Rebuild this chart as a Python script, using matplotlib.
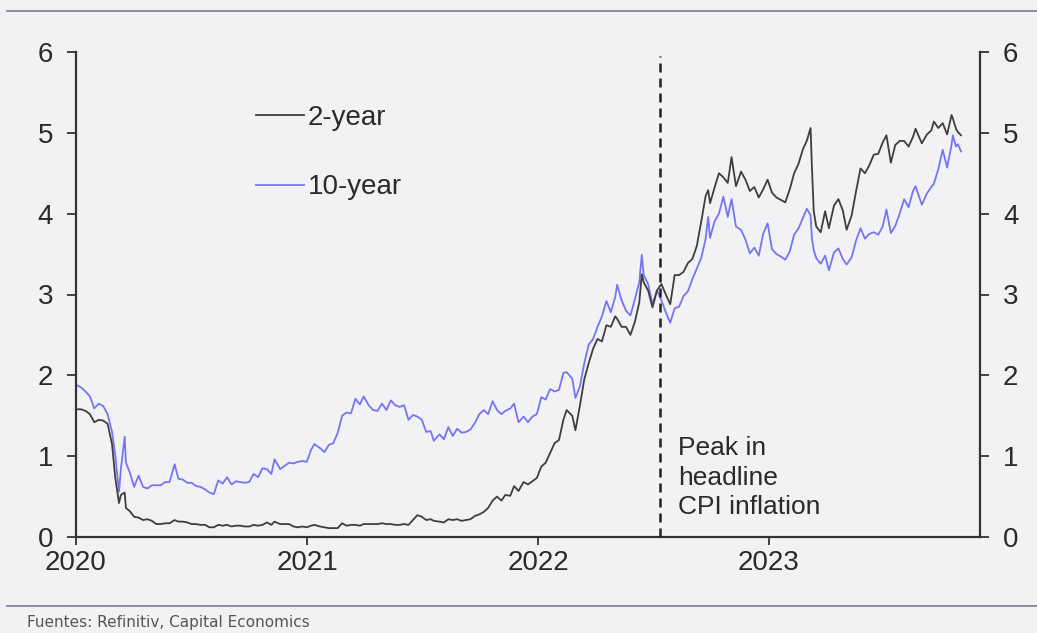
import matplotlib
matplotlib.use("Agg")
import matplotlib.pyplot as plt
import pandas as pd
from matplotlib.lines import Line2D

# ---------------- data ----------------
dates = [
    # 2020
    "2020-01-02", "2020-01-09", "2020-01-16", "2020-01-23", "2020-01-30",
    "2020-02-06", "2020-02-13", "2020-02-20", "2020-02-27",
    "2020-03-03", "2020-03-09", "2020-03-12", "2020-03-18", "2020-03-20", "2020-03-26",
    "2020-04-02", "2020-04-09", "2020-04-16", "2020-04-23", "2020-04-30",
    "2020-05-07", "2020-05-14", "2020-05-21", "2020-05-28",
    "2020-06-05", "2020-06-11", "2020-06-18", "2020-06-25",
    "2020-07-02", "2020-07-09", "2020-07-16", "2020-07-23", "2020-07-30",
    "2020-08-06", "2020-08-13", "2020-08-20", "2020-08-27",
    "2020-09-03", "2020-09-10", "2020-09-17", "2020-09-24",
    "2020-10-01", "2020-10-08", "2020-10-15", "2020-10-22", "2020-10-29",
    "2020-11-05", "2020-11-10", "2020-11-19", "2020-11-26",
    "2020-12-03", "2020-12-10", "2020-12-17", "2020-12-24", "2020-12-31",
    # 2021
    "2021-01-07", "2021-01-12", "2021-01-21", "2021-01-28",
    "2021-02-04", "2021-02-11", "2021-02-18", "2021-02-25",
    "2021-03-04", "2021-03-11", "2021-03-18", "2021-03-25", "2021-03-31",
    "2021-04-08", "2021-04-15", "2021-04-22", "2021-04-29",
    "2021-05-06", "2021-05-13", "2021-05-20", "2021-05-27",
    "2021-06-03", "2021-06-10", "2021-06-17", "2021-06-24",
    "2021-07-01", "2021-07-08", "2021-07-15", "2021-07-20", "2021-07-29",
    "2021-08-05", "2021-08-12", "2021-08-19", "2021-08-26",
    "2021-09-02", "2021-09-09", "2021-09-16", "2021-09-23", "2021-09-30",
    "2021-10-07", "2021-10-14", "2021-10-21", "2021-10-28",
    "2021-11-04", "2021-11-10", "2021-11-18", "2021-11-24",
    "2021-12-01", "2021-12-09", "2021-12-16", "2021-12-23", "2021-12-30",
    # 2022
    "2022-01-06", "2022-01-13", "2022-01-20", "2022-01-27",
    "2022-02-03", "2022-02-10", "2022-02-15", "2022-02-24",
    "2022-03-01", "2022-03-08", "2022-03-15", "2022-03-22", "2022-03-29",
    "2022-04-05", "2022-04-12", "2022-04-19", "2022-04-26",
    "2022-05-03", "2022-05-06", "2022-05-13", "2022-05-20", "2022-05-27",
    "2022-06-03", "2022-06-10", "2022-06-14", "2022-06-17", "2022-06-24",
    "2022-07-01", "2022-07-08", "2022-07-15", "2022-07-22", "2022-07-29",
    "2022-08-05", "2022-08-12", "2022-08-19", "2022-08-26",
    "2022-09-02", "2022-09-09", "2022-09-16", "2022-09-23", "2022-09-27", "2022-09-30",
    "2022-10-07", "2022-10-14", "2022-10-21", "2022-10-28",
    "2022-11-03", "2022-11-10", "2022-11-18", "2022-11-25",
    "2022-12-02", "2022-12-09", "2022-12-16", "2022-12-23", "2022-12-30",
    # 2023
    "2023-01-06", "2023-01-13", "2023-01-20", "2023-01-27",
    "2023-02-03", "2023-02-10", "2023-02-17", "2023-02-24",
    "2023-03-02", "2023-03-08", "2023-03-10", "2023-03-13", "2023-03-17", "2023-03-24", "2023-03-31",
    "2023-04-06", "2023-04-14", "2023-04-21", "2023-04-28",
    "2023-05-04", "2023-05-12", "2023-05-19", "2023-05-26",
    "2023-06-02", "2023-06-09", "2023-06-16", "2023-06-23", "2023-06-30",
    "2023-07-06", "2023-07-13", "2023-07-20", "2023-07-27",
    "2023-08-03", "2023-08-10", "2023-08-17", "2023-08-21", "2023-08-31",
    "2023-09-08", "2023-09-15", "2023-09-19", "2023-09-26",
    "2023-10-03", "2023-10-10", "2023-10-17", "2023-10-19", "2023-10-24", "2023-10-27",
    "2023-11-01",
]

two_year = [
    # 2020
    1.58, 1.58, 1.56, 1.52, 1.42,
    1.45, 1.44, 1.40, 1.15,
    0.74, 0.42, 0.52, 0.55, 0.36, 0.32,
    0.25, 0.24, 0.21, 0.22, 0.20,
    0.16, 0.16, 0.17, 0.17,
    0.21, 0.19, 0.19, 0.18,
    0.16, 0.16, 0.15, 0.15, 0.12,
    0.12, 0.15, 0.14, 0.15,
    0.13, 0.14, 0.14, 0.13,
    0.13, 0.15, 0.14, 0.15, 0.18,
    0.15, 0.19, 0.16, 0.16,
    0.16, 0.13, 0.12, 0.13, 0.12,
    # 2021
    0.14, 0.15, 0.13, 0.12,
    0.11, 0.11, 0.11, 0.17,
    0.14, 0.15, 0.15, 0.14, 0.16,
    0.16, 0.16, 0.16, 0.17,
    0.16, 0.16, 0.15, 0.15,
    0.16, 0.15, 0.21, 0.27,
    0.25, 0.21, 0.22, 0.20, 0.19,
    0.18, 0.22, 0.21, 0.22,
    0.20, 0.21, 0.22, 0.26, 0.28,
    0.31, 0.36, 0.45, 0.50,
    0.45, 0.52, 0.51, 0.63,
    0.57, 0.68, 0.65, 0.69, 0.73,
    # 2022
    0.87, 0.92, 1.04, 1.16,
    1.20, 1.45, 1.57, 1.50,
    1.32, 1.62, 1.95, 2.15, 2.33,
    2.45, 2.42, 2.62, 2.60,
    2.73, 2.70, 2.60, 2.60, 2.50,
    2.66, 2.90, 3.25, 3.15, 3.05,
    2.84, 3.05, 3.13, 3.00, 2.88,
    3.24, 3.24, 3.28, 3.39,
    3.44, 3.60, 3.90, 4.22, 4.29, 4.13,
    4.32, 4.50, 4.45, 4.38,
    4.70, 4.34, 4.52, 4.42,
    4.28, 4.33, 4.20, 4.30, 4.42,
    # 2023
    4.26, 4.20, 4.17, 4.14,
    4.30, 4.50, 4.62, 4.80,
    4.90, 5.06, 4.60, 4.03, 3.84, 3.77, 4.03,
    3.82, 4.10, 4.18, 4.04,
    3.80, 3.98, 4.28, 4.56,
    4.50, 4.60, 4.73, 4.74, 4.88,
    4.97, 4.63, 4.85, 4.90,
    4.90, 4.83, 4.95, 5.05, 4.87,
    4.98, 5.03, 5.14, 5.06,
    5.12, 4.98, 5.22, 5.18, 5.05, 5.01,
    4.97,
]

ten_year = [
    # 2020
    1.88, 1.85, 1.80, 1.74, 1.59,
    1.65, 1.62, 1.52, 1.30,
    1.02, 0.56, 0.84, 1.24, 0.92, 0.80,
    0.62, 0.76, 0.62, 0.60, 0.64,
    0.64, 0.64, 0.68, 0.68,
    0.90, 0.72, 0.71, 0.67,
    0.67, 0.63, 0.62, 0.59, 0.55,
    0.53, 0.70, 0.66, 0.74,
    0.65, 0.69, 0.68, 0.67,
    0.68, 0.78, 0.74, 0.85, 0.84,
    0.78, 0.96, 0.84, 0.88,
    0.92, 0.91, 0.93, 0.94, 0.93,
    # 2021
    1.08, 1.15, 1.10, 1.05,
    1.14, 1.16, 1.29, 1.50,
    1.54, 1.53, 1.71, 1.64, 1.74,
    1.63, 1.57, 1.56, 1.65,
    1.57, 1.69, 1.63, 1.61,
    1.63, 1.45, 1.51, 1.49,
    1.45, 1.30, 1.31, 1.19, 1.27,
    1.21, 1.36, 1.25, 1.34,
    1.29, 1.30, 1.33, 1.41, 1.52,
    1.57, 1.52, 1.68, 1.57,
    1.52, 1.56, 1.59, 1.65,
    1.42, 1.49, 1.42, 1.49, 1.52,
    # 2022
    1.73, 1.70, 1.83, 1.80,
    1.82, 2.03, 2.04, 1.96,
    1.72, 1.86, 2.15, 2.38, 2.45,
    2.60, 2.73, 2.92, 2.78,
    2.97, 3.12, 2.93, 2.80, 2.74,
    2.94, 3.15, 3.49, 3.24, 3.13,
    2.88, 3.05, 2.93, 2.78, 2.65,
    2.83, 2.85, 2.98, 3.04,
    3.19, 3.32, 3.45, 3.69, 3.96, 3.70,
    3.90, 4.00, 4.21, 3.96,
    4.18, 3.84, 3.80, 3.68,
    3.51, 3.58, 3.48, 3.75, 3.88,
    # 2023
    3.56, 3.50, 3.47, 3.43,
    3.53, 3.74, 3.82, 3.95,
    4.06, 3.98, 3.70, 3.55, 3.45, 3.38, 3.48,
    3.30, 3.52, 3.57, 3.44,
    3.37, 3.46, 3.67, 3.82,
    3.69, 3.75, 3.77, 3.74, 3.84,
    4.05, 3.76, 3.85, 4.00,
    4.18, 4.08, 4.28, 4.34, 4.11,
    4.25, 4.33, 4.37, 4.55,
    4.79, 4.57, 4.85, 4.97, 4.83, 4.86,
    4.77,
]

series_labels = ["2-year", "10-year"]
year_ticks = ["2020", "2021", "2022", "2023"]
y_ticks = [0, 1, 2, 3, 4, 5, 6]
peak_cpi_date = "2022-07-13"
annotation_text = "Peak in\nheadline\nCPI inflation"
source_text = "Fuentes: Refinitiv, Capital Economics"

assert len(dates) == len(two_year) == len(ten_year)

# ---------------- style ----------------
plt.rcParams["font.family"] = ["Liberation Sans", "DejaVu Sans"]
W, H = 1037, 633
bg = "#f2f2f4"
ink = "#2a2a2a"
c_two = "#3e3e3e"
c_ten = "#7575f3"

fig = plt.figure(figsize=(W / 100, H / 100), dpi=100, facecolor=bg)
ax = fig.add_axes([76 / W, 1 - 537 / H, (980 - 76) / W, (537 - 52) / H])
ax.set_facecolor(bg)

d = pd.to_datetime(dates)
ax.plot(d, two_year, color=c_two, lw=1.3, label=series_labels[0], zorder=3)
ax.plot(d, ten_year, color=c_ten, lw=1.3, label=series_labels[1], zorder=2)

ax.axvline(pd.Timestamp(peak_cpi_date), ymin=0, ymax=5.95 / 6, color="#222222",
           lw=1.8, ls=(0, (3.6, 2.4)), zorder=4)

ax.set_ylim(0, 6)
ax.set_xlim(pd.Timestamp("2020-01-01"), pd.Timestamp("2023-12-01"))
ax.set_yticks(y_ticks)
ax.set_yticklabels([str(v) for v in y_ticks])
ax.set_xticks(pd.to_datetime([f"{y}-01-01" for y in year_ticks]))
ax.set_xticklabels(year_ticks)

ax.spines["top"].set_visible(False)
for s in ["left", "right", "bottom"]:
    ax.spines[s].set_linewidth(1.6)
    ax.spines[s].set_color("#333333")

ax.tick_params(axis="y", left=True, right=True, labelleft=True, labelright=True,
               direction="out", length=6.5, width=1.3, color="#333333",
               labelsize=20, pad=10, labelcolor=ink)
ax.tick_params(axis="x", direction="out", length=6, width=1.3, color="#333333",
               labelsize=20, pad=3, labelcolor=ink)

ax.legend(loc="upper left", bbox_to_anchor=(0.199, 0.891), frameon=False,
          fontsize=20, handlelength=1.73, handletextpad=0.15, labelspacing=1.57,
          borderpad=0, borderaxespad=0, labelcolor=ink)

ax.annotate(annotation_text, xy=(pd.Timestamp(peak_cpi_date), 1.25), xycoords="data",
            xytext=(13, 0), textcoords="offset points", fontsize=19, va="top",
            ha="left", linespacing=1.3, color=ink)

# separator lines and source
for yy in (11, 606):
    fig.add_artist(Line2D([7 / W, 1.0], [1 - yy / H, 1 - yy / H], color="#7c7c92",
                          lw=1.2, transform=fig.transFigure))
fig.text(27 / W, 1 - 622 / H, source_text, fontsize=11, color="#555555",
         family=["DejaVu Sans"], va="center", ha="left")

fig.savefig("out.png", dpi=100, facecolor=bg)
